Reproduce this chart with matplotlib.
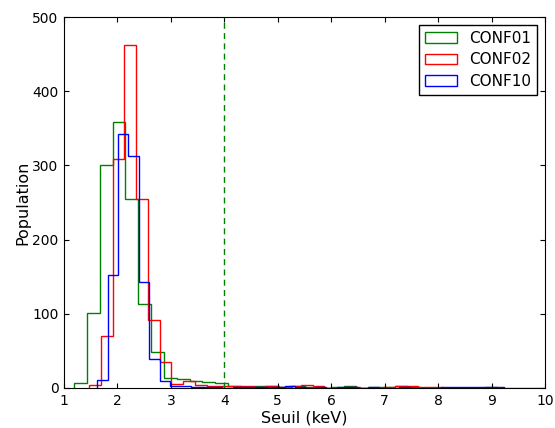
import matplotlib
matplotlib.use("Agg")
import matplotlib.pyplot as plt
from matplotlib.patches import Patch
import numpy as np

# bin layout of each histogram (start, width) and counts per bin
conf01_start, conf01_width = 1.19, 0.24
conf01_counts = [7, 101, 300, 358, 255, 113, 49, 14, 12, 10, 8, 7, 2, 1, 2, 2, 1, 2,
                 1, 0, 1, 2, 0, 1, 1, 3, 1, 0, 0, 0, 0, 0, 1, 0, 0, 0, 0]

conf02_start, conf02_width = 1.47, 0.22
conf02_counts = [4, 70, 309, 462, 255, 91, 35, 6, 9, 4, 3, 3, 3, 2, 1, 2, 1, 2, 4,
                 2, 0, 0, 1, 0, 0, 1, 2, 2, 1, 1, 0]

conf10_start, conf10_width = 1.62, 0.195
conf10_counts = [11, 152, 343, 313, 143, 39, 10, 3, 2, 1, 1, 1, 0, 1, 1, 1, 1, 1, 2,
                 1, 0, 1, 0, 1, 1, 0, 1, 0, 0, 1, 0, 0, 0, 1, 1, 1, 1, 1, 1]

labels = ["CONF01", "CONF02", "CONF10"]
colors = ["g", "r", "b"]
seuil = 4.0

fig = plt.figure(figsize=(5.55, 4.28), dpi=100)
ax = fig.add_axes([0.1153, 0.0935, 0.8667, 0.8665])

for counts, start, width, col, lab in zip(
        [conf01_counts, conf02_counts, conf10_counts],
        [conf01_start, conf02_start, conf10_start],
        [conf01_width, conf02_width, conf10_width], colors, labels):
    edges = start + width * np.arange(len(counts) + 1)
    ax.stairs(counts, edges, color=col, linewidth=1.0, label=lab, baseline=0)

ax.axvline(seuil, color="g", linestyle=(0, (4.3, 3.1)), linewidth=1.0)

ax.set_xlim(1, 10)
ax.set_ylim(0, 500)
ax.set_xticks(range(1, 11))
ax.set_yticks(range(0, 501, 100))
ax.tick_params(direction="in", top=True, right=True, labelsize=10, pad=4)
ax.set_xlabel("Seuil (keV)", fontsize=11.5, labelpad=2)
ax.set_ylabel("Population", fontsize=11.5, labelpad=1)

handles = [Patch(facecolor="none", edgecolor=c, label=l) for c, l in zip(colors, labels)]
ax.legend(handles=handles, loc="upper right", fontsize=11, fancybox=False,
          edgecolor="black", framealpha=1, handlelength=2.1, labelspacing=0.42,
          borderaxespad=0.5)

fig.savefig("out.png", dpi=100)
